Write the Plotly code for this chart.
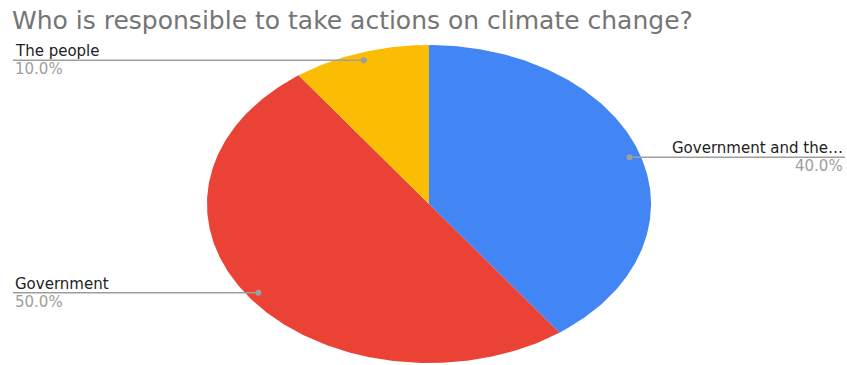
import numpy as np
import plotly.graph_objects as go

title = "Who is responsible to take actions on climate change?"
labels = ["Government and the people", "Government", "The people"]
values = [40, 50, 10]
colors = ["#4285F4", "#EA4335", "#FBBC04"]

W, H = 847, 365
cx, cy, rx, ry = 429, 204, 222, 159  # pixel geometry of pie area

fig = go.Figure()

total = sum(values)
start = 0.0
mids = []
for lab, val, col in zip(labels, values, colors):
    frac = val / total
    a0, a1 = start, start + frac * 2 * np.pi
    n = max(int(frac * 400), 8)
    t = np.linspace(a0, a1, n)
    xs = np.concatenate([[0], np.sin(t), [0]])
    ys = np.concatenate([[0], np.cos(t), [0]])
    fig.add_trace(go.Scatter(x=xs, y=ys, mode="lines", fill="toself",
                             fillcolor=col, line=dict(width=0, color=col),
                             hoverinfo="skip", showlegend=False))
    mids.append((lab, val, (a0 + a1) / 2))
    start = a1

edge = (W - 2 - cx) / rx
ledge = (13 - cx) / rx
for lab, val, m in mids:
    dx, dy = 0.95 * np.sin(m), 0.95 * np.cos(m)
    right = dx > 0
    xe = edge if right else ledge
    fig.add_trace(go.Scatter(x=[dx, xe], y=[dy, dy], mode="lines",
                             line=dict(color="#9e9e9e", width=1.5),
                             hoverinfo="skip", showlegend=False))
    fig.add_trace(go.Scatter(x=[dx], y=[dy], mode="markers",
                             marker=dict(color="#9e9e9e", size=6),
                             hoverinfo="skip", showlegend=False))
    txt = lab if len(lab) <= 18 else lab[:18] + "…"
    anchor = "right" if right else "left"
    fig.add_annotation(x=xe, y=dy, xref="x", yref="y", text=txt, showarrow=False,
                       xanchor=anchor, yanchor="bottom", yshift=-2,
                       font=dict(family="DejaVu Sans", size=15, color="#222222"))
    fig.add_annotation(x=xe, y=dy, xref="x", yref="y", text=f"{val / total * 100:.1f}%",
                       showarrow=False, xanchor=anchor, yanchor="top", yshift=2,
                       font=dict(family="DejaVu Sans", size=15, color="#9e9e9e"))

fig.add_annotation(x=10 / W, y=1 - 20 / H, xref="paper", yref="paper", text=title,
                   showarrow=False, xanchor="left", yanchor="middle",
                   font=dict(family="DejaVu Sans", size=25, color="#757575"))

fig.update_layout(
    width=W, height=H, margin=dict(l=0, r=0, t=0, b=0),
    paper_bgcolor="white", plot_bgcolor="white",
    xaxis=dict(range=[-cx / rx, (W - cx) / rx], visible=False, fixedrange=True),
    yaxis=dict(range=[-(H - cy) / ry, cy / ry], visible=False, fixedrange=True),
    hovermode=False,
)
fig.write_html("out.html", config={"displayModeBar": False})
